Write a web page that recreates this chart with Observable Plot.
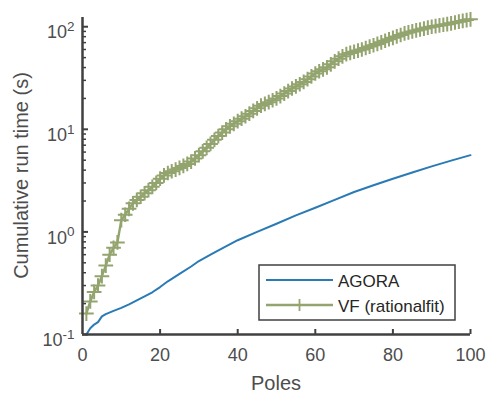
<!DOCTYPE html>
<html><head><meta charset="utf-8">
<script src="https://cdn.jsdelivr.net/npm/d3@7"></script>
<script src="https://cdn.jsdelivr.net/npm/@observablehq/plot@0.6"></script>
<style>body{margin:0;background:#fff} #chart{width:486px;height:395px}</style>
</head><body><div id="chart"></div>
<script>
const seriesNames = ["AGORA", "VF (rationalfit)"];
const seriesColors = ["#2a7ab5", "#93a46e"];
const xTitle = "Poles";
const yTitle = "Cumulative run time (s)";

const vfPoles = d3.range(1, 101);
const vfTime = [
  0.16, 0.21, 0.26, 0.30, 0.37, 0.47, 0.60, 0.70, 0.79, 1.30,
  1.47, 1.68, 1.90, 2.05, 2.20, 2.38, 2.55, 2.75, 3.00, 3.30,
  3.55, 3.75, 3.90, 4.05, 4.20, 4.40, 4.60, 4.85, 5.20, 5.60,
  6.10, 6.60, 7.20, 7.90, 8.60, 9.30, 10.0, 10.7, 11.3, 12.0,
  12.7, 13.4, 14.2, 15.1, 16.0, 17.0, 17.7, 18.4, 19.2, 20.0,
  21.1, 22.3, 23.6, 25.0, 26.2, 27.5, 29.0, 30.8, 32.8, 35.0,
  36.8, 38.4, 40.2, 43.0, 46.0, 48.8, 51.5, 54.0, 55.5, 57.0,
  58.5, 60.0, 62.0, 64.0, 66.0, 68.0, 70.5, 73.0, 75.5, 78.0,
  80.5, 83.0, 86.0, 88.0, 90.0, 92.0, 94.0, 96.0, 98.0, 100,
  101.5, 103, 104.5, 106, 108, 110, 112, 114, 116, 118
];

const agoraPoles = [1, 2, 3, 4, 5, 6, 8, 10, 12, 14, 16, 18, 20, 22, 25, 28, 30, 33, 36, 40,
  45, 50, 55, 60, 65, 70, 75, 80, 85, 90, 95, 100];
const agoraTime = [0.100, 0.115, 0.125, 0.132, 0.150, 0.158, 0.170, 0.182, 0.197, 0.215,
  0.235, 0.258, 0.290, 0.330, 0.390, 0.460, 0.520, 0.600, 0.690, 0.830,
  1.00, 1.20, 1.45, 1.72, 2.05, 2.45, 2.85, 3.30, 3.80, 4.35, 4.95, 5.60];

const xTicks = [0, 20, 40, 60, 80, 100];
const yTicks = [0.1, 1, 10, 100];
const yTickLabels = ["10^-1", "10^0", "10^1", "10^2"];
const yMinorTicks = [0.2,0.3,0.4,0.5,0.6,0.7,0.8,0.9, 2,3,4,5,6,7,8,9, 20,30,40,50,60,70,80,90];

const vfData = vfPoles.map((p, i) => ({pole: p, time: vfTime[i]}));
const agoraData = agoraPoles.map((p, i) => ({pole: p, time: agoraTime[i]}));

const W = 486, H = 395, mL = 82, mR = 16, mT = 17, mB = 61;
const frameW = W - mL - mR, frameH = H - mT - mB;
const axisColor = "#404040";
const textColor = "#4d4d4d";
const font = "'Liberation Sans', Arial, Helvetica, sans-serif";

const plot = Plot.plot({
  width: W, height: H,
  marginLeft: mL, marginRight: mR, marginTop: mT, marginBottom: mB,
  style: {fontFamily: font, color: textColor, background: "#fff", overflow: "visible"},
  x: {domain: [0, 100]},
  y: {type: "log", domain: [0.1, 123]},
  marks: [
    Plot.line(agoraData, {x: "pole", y: "time", stroke: seriesColors[0], strokeWidth: 2}),
    Plot.line(vfData, {x: "pole", y: "time", stroke: seriesColors[1], strokeWidth: 2.4}),
    Plot.dot(vfData, {x: "pole", y: "time", symbol: "plus", r: 4.8, stroke: seriesColors[1], strokeWidth: 2}),
    Plot.tickY(yTicks, {y: d => d, insetRight: frameW - 6, stroke: axisColor, strokeWidth: 2}),
    Plot.tickY(yMinorTicks, {y: d => d, insetRight: frameW - 4, stroke: axisColor, strokeWidth: 1.5}),
    Plot.tickX(xTicks.slice(1), {x: d => d, insetTop: frameH - 5, stroke: axisColor, strokeWidth: 2}),
    Plot.ruleX([0], {stroke: axisColor, strokeWidth: 2.5}),
    Plot.ruleY([0.1], {stroke: axisColor, strokeWidth: 2.5}),
    Plot.axisX({ticks: xTicks, tickSize: 0, tickPadding: 14, fontSize: 18, label: null, tickFormat: d => String(d)}),
    Plot.axisY({ticks: yTicks, tickSize: 0, tickPadding: 8, fontSize: 18, dy: 6, label: null,
      tickFormat: d => yTickLabels[yTicks.indexOf(d)]})
  ]
});
document.getElementById("chart").appendChild(plot);

// superscript exponents
plot.querySelectorAll('g[aria-label="y-axis tick label"] text').forEach(t => {
  const [base, exp] = t.textContent.split("^");
  t.textContent = "";
  const ns = "http://www.w3.org/2000/svg";
  const a = document.createElementNS(ns, "tspan"); a.textContent = base; t.appendChild(a);
  const b = document.createElementNS(ns, "tspan"); b.textContent = exp;
  b.setAttribute("dy", "-7.5"); b.setAttribute("font-size", "13.5"); t.appendChild(b);
});

const svg = d3.select(plot);
svg.append("text").attr("x", (mL + W - mR) / 2).attr("y", 390).attr("text-anchor", "middle")
  .attr("font-size", 20).attr("fill", textColor).attr("font-family", font).text(xTitle);
svg.append("text").attr("transform", `translate(28,${(mT + H - mB) / 2}) rotate(-90)`).attr("text-anchor", "middle")
  .attr("font-size", 20).attr("fill", textColor).attr("font-family", font).text(yTitle);

// legend
const lg = svg.append("g").attr("font-family", font).attr("font-size", 17).attr("fill", "#262626")
  .attr("text-anchor", "start");
lg.append("rect").attr("x", 259).attr("y", 265).attr("width", 196).attr("height", 55)
  .attr("fill", "#fff").attr("stroke", axisColor).attr("stroke-width", 1.5);
const rowsY = [280, 305];
seriesNames.forEach((name, i) => {
  lg.append("line").attr("x1", 266).attr("x2", 333).attr("y1", rowsY[i]).attr("y2", rowsY[i])
    .attr("stroke", seriesColors[i]).attr("stroke-width", i === 0 ? 2 : 2.4);
  lg.append("text").attr("x", 338).attr("y", rowsY[i] + 6.5).attr("text-anchor", "start").text(name);
});
lg.append("line").attr("x1", 299.5).attr("x2", 299.5).attr("y1", rowsY[1] - 6).attr("y2", rowsY[1] + 6)
  .attr("stroke", seriesColors[1]).attr("stroke-width", 1.8);
</script>
</body></html>
